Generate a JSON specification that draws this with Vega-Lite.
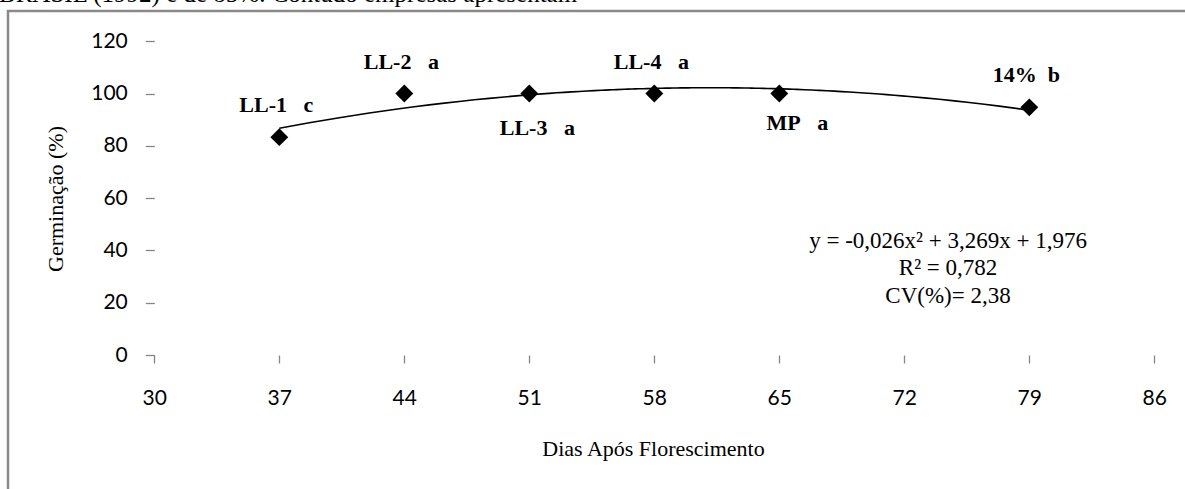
{
  "$schema": "https://vega.github.io/schema/vega-lite/v6.json",
  "autosize": {"type": "none"},
  "padding": {"left": 8, "top": 11, "right": 0, "bottom": 0},
  "width": 1177,
  "height": 478,
  "background": "white",
  "title": {
    "text": "BRASIL (1992) e de 85%. Contudo empresas apresentam",
    "anchor": "start",
    "frame": "group",
    "font": "Liberation Serif",
    "fontSize": 25,
    "fontWeight": "normal",
    "baseline": "alphabetic",
    "offset": 2,
    "dx": -9,
    "dy": 18,
    "color": "#000000"
  },
  "config": {
    "view": {"stroke": "#8a8a8a", "strokeWidth": 2.5, "strokeDash": [1177, 1655, 478]}
  },
  "datasets": {
    "germinacao": [
      {"dias": 37, "germ": 83.3, "tratamento": "LL-1\u00a0\u00a0\u00a0c"},
      {"dias": 44, "germ": 100, "tratamento": "LL-2\u00a0\u00a0\u00a0a"},
      {"dias": 51, "germ": 100, "tratamento": "LL-3\u00a0\u00a0\u00a0a"},
      {"dias": 58, "germ": 100, "tratamento": "LL-4\u00a0\u00a0\u00a0a"},
      {"dias": 65, "germ": 100, "tratamento": "MP\u00a0\u00a0\u00a0a"},
      {"dias": 79, "germ": 94.7, "tratamento": "14%\u00a0\u00a0b"}
    ]
  },
  "data": {"name": "germinacao"},
  "encoding": {
    "x": {
      "field": "dias",
      "type": "quantitative",
      "scale": {"domain": [21.807, 87.719], "nice": false, "zero": false},
      "axis": {
        "values": [30, 37, 44, 51, 58, 65, 72, 79, 86],
        "offset": -134,
        "domain": false,
        "grid": false,
        "ticks": true,
        "tickColor": "#868686",
        "tickSize": 8,
        "tickWidth": 1.3,
        "labelFont": "Lato",
        "labelFontSize": 21,
        "labelColor": "#000000",
        "labelPadding": 35,
        "labelBaseline": "middle",
        "labelFlush": false,
        "labelOverlap": false,
        "format": "d",
        "title": "Dias Após Florescimento",
        "titleFont": "Liberation Serif",
        "titleFontSize": 22,
        "titleFontWeight": "normal",
        "titleColor": "#000000",
        "titleX": 645,
        "titleY": 100,
        "titleBaseline": "alphabetic",
        "titleAlign": "center"
      }
    },
    "y": {
      "field": "germ",
      "type": "quantitative",
      "scale": {"domain": [-51.24, 131.55], "nice": false, "zero": false},
      "axis": {
        "values": [0, 20, 40, 60, 80, 100, 120],
        "offset": -146.3,
        "domain": false,
        "grid": false,
        "ticks": true,
        "tickColor": "#868686",
        "tickSize": 9,
        "tickWidth": 1.3,
        "labelFont": "Lato",
        "labelFontSize": 21,
        "labelColor": "#000000",
        "labelPadding": 18,
        "labelBaseline": "middle",
        "labelOverlap": false,
        "format": "d",
        "title": "Germinação (%)",
        "titleFont": "Liberation Serif",
        "titleFontSize": 22,
        "titleFontWeight": "normal",
        "titleColor": "#000000",
        "titleAngle": -90,
        "titleX": -92.3,
        "titleY": 187.5,
        "titleBaseline": "alphabetic",
        "titleAlign": "center"
      }
    }
  },
  "layer": [
    {
      "data": {"values": [{"eixo": "x"}]},
      "mark": {"type": "rule", "color": "#868686", "strokeWidth": 1.3},
      "encoding": {
        "x": {"datum": 30, "type": "quantitative"},
        "x2": {"datum": 86},
        "y": {"datum": 0, "type": "quantitative"}
      }
    },
    {
      "data": {"values": [{"eixo": "y"}]},
      "mark": {"type": "rule", "color": "#868686", "strokeWidth": 1.3},
      "encoding": {
        "x": {"datum": 30, "type": "quantitative"},
        "y": {"datum": 0, "type": "quantitative"},
        "y2": {"datum": 120}
      }
    },
    {
      "transform": [
        {"regression": "germ", "on": "dias", "method": "poly", "order": 2}
      ],
      "mark": {"type": "line", "color": "#000000", "strokeWidth": 1.6, "interpolate": "monotone"},
      "encoding": {}
    },
    {
      "mark": {"type": "point", "shape": "diamond", "filled": true, "color": "#000000", "size": 320, "opacity": 1}
    },
    {
      "transform": [{"filter": {"field": "dias", "oneOf": [37, 44, 58, 79]}}],
      "mark": {"type": "text", "font": "Liberation Serif", "fontSize": 22, "fontWeight": "bold", "color": "#000000", "align": "center", "baseline": "middle", "dx": -3, "dy": -32},
      "encoding": {"text": {"field": "tratamento"}}
    },
    {
      "transform": [{"filter": {"field": "dias", "equal": 51}}],
      "mark": {"type": "text", "font": "Liberation Serif", "fontSize": 22, "fontWeight": "bold", "color": "#000000", "align": "center", "baseline": "middle", "dx": 8, "dy": 34},
      "encoding": {"text": {"field": "tratamento"}}
    },
    {
      "transform": [{"filter": {"field": "dias", "equal": 65}}],
      "mark": {"type": "text", "font": "Liberation Serif", "fontSize": 22, "fontWeight": "bold", "color": "#000000", "align": "center", "baseline": "middle", "dx": 18, "dy": 29},
      "encoding": {"text": {"field": "tratamento"}}
    },
    {
      "transform": [{"filter": {"field": "dias", "equal": 79}}],
      "mark": {
        "type": "text",
        "font": "Liberation Serif",
        "fontSize": 23,
        "color": "#000000",
        "align": "center",
        "baseline": "middle",
        "lineHeight": 27.5,
        "text": ["y = -0,026x² + 3,269x + 1,976", "R² = 0,782", "CV(%)= 2,38"]
      },
      "encoding": {
        "x": {"datum": 74.45, "type": "quantitative"},
        "y": {"datum": 43.6, "type": "quantitative"}
      }
    }
  ]
}
